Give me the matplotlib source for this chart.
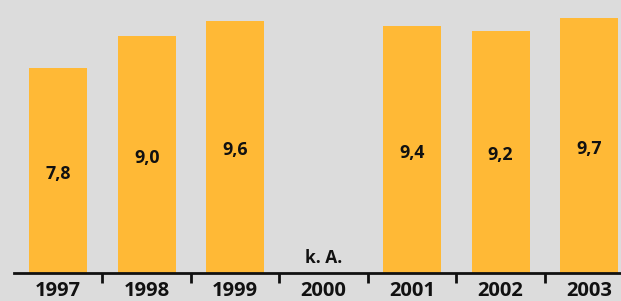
import matplotlib
matplotlib.use("Agg")
import matplotlib.pyplot as plt
import numpy as np

years = ["1997", "1998", "1999", "2000", "2001", "2002", "2003"]
values = [7.8, 9.0, 9.6, None, 9.4, 9.2, 9.7]
value_labels = ["7,8", "9,0", "9,6", "k. A.", "9,4", "9,2", "9,7"]

BG = "#dcdcdc"
BAR = "#ffb936"
TXT = "#111111"
FONT = ["Open Sans", "DejaVu Sans"]

fig = plt.figure(figsize=(6.21, 3.01), dpi=100, facecolor=BG)
ax = fig.add_axes([14 / 621, 28 / 301, 1 - 14 / 621, 273 / 301])
ax.set_facecolor(BG)

x = np.arange(len(years))
for xi, v, lab in zip(x, values, value_labels):
    if v is None:
        ax.text(xi, 0.22, lab, ha="center", va="bottom", fontsize=12.5,
                fontweight="bold", color=TXT, family=FONT)
    else:
        ax.bar(xi, v, width=0.655, color=BAR, edgecolor="none", zorder=2)
        ax.text(xi, v / 2 - 0.12, lab, ha="center", va="center", fontsize=12.8,
                fontweight="bold", color=TXT, family=FONT, zorder=3)

ax.set_xlim(-0.5, 6.36)
ax.set_ylim(0, 10.38)

for s in ["top", "left", "right"]:
    ax.spines[s].set_visible(False)
ax.spines["bottom"].set_linewidth(2)
ax.spines["bottom"].set_color(TXT)
ax.spines["bottom"].set_zorder(4)

ax.set_yticks([])
ax.set_xticks(x)
ax.set_xticklabels(years, fontsize=14.5, fontweight="bold", color=TXT, family=FONT)
ax.tick_params(axis="x", which="major", length=0, pad=6)
ax.set_xticks(x[:-1] + 0.5, minor=True)
ax.tick_params(axis="x", which="minor", length=7, width=2, color=TXT, direction="out")

fig.savefig("out.png", dpi=100, facecolor=BG)
